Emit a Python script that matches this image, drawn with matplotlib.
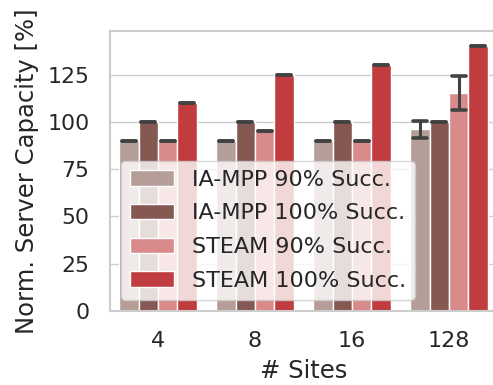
import matplotlib
matplotlib.use("Agg")
import matplotlib.pyplot as plt
from matplotlib.markers import MarkerStyle
import numpy as np
import seaborn as sns

sns.set_theme(style="whitegrid")
plt.rcParams["font.family"] = ["DejaVu Sans"]

sites = ["4", "8", "16", "128"]
series = ["IA-MPP 90% Succ.", "IA-MPP 100% Succ.", "STEAM 90% Succ.", "STEAM 100% Succ."]
ia_mpp_90 = [90, 90, 90, 96]
ia_mpp_100 = [100, 100, 100, 100]
steam_90 = [90, 95, 90, 115]
steam_100 = [110, 125, 130, 140]
ia_mpp_90_err = [0, 0, 0, 4.5]
ia_mpp_100_err = [0, 0, 0, 0]
steam_90_err = [0, 0, 0, 9]
steam_100_err = [0, 0, 0, 0]

values = [ia_mpp_90, ia_mpp_100, steam_90, steam_100]
errors = [ia_mpp_90_err, ia_mpp_100_err, steam_90_err, steam_100_err]
colors = ["#b59e98", "#855952", "#d98a8a", "#c03c3e"]

fig = plt.figure(figsize=(4.93, 3.85), dpi=100)
# the plot area runs past the right edge of the canvas
ax_w_px = 430
px_per_cat = 97.0
ax = fig.add_axes([109.5 / 493, 74 / 385, ax_w_px / 493, 280 / 385])

x = np.arange(len(sites))
width = 0.2
for i, (vals, errs, col, name) in enumerate(zip(values, errors, colors, series)):
    pos = x - 0.4 + width * (i + 0.5)
    ax.bar(pos, vals, width=width, color=col, edgecolor="white", linewidth=1.0,
           label=name, zorder=2)
    _, caps, _ = ax.errorbar(pos, vals, yerr=errs, fmt="none", ecolor="#424242",
                             elinewidth=2.2, capsize=4.8, capthick=2.6, zorder=3)
    for c in caps:
        c.set_marker(MarkerStyle("_", capstyle="round"))

ax.set_xlim(-0.5, -0.5 + ax_w_px / px_per_cat)
ax.set_ylim(0, 148)
ax.set_yticks([0, 25, 50, 75, 100, 125])
ax.set_xticks(x)
ax.set_xticklabels(sites)
ax.tick_params(axis="x", labelsize=16, length=0, pad=14.5)
ax.tick_params(axis="y", labelsize=15.8, length=0, pad=14.5)
ax.grid(axis="x", visible=False)
ax.grid(axis="y", color="0.8", linewidth=1.0)
ax.set_axisbelow(True)
for s in ax.spines.values():
    s.set_color("0.8")
    s.set_linewidth(1.5)

# centre the x label under the four category slots (-0.5 .. 3.5)
ax.set_xlabel("# Sites", fontsize=17.5, labelpad=6,
              x=(4 * px_per_cat) / 2 / ax_w_px)
ax.set_ylabel("Norm. Server Capacity [%]", fontsize=17.5, labelpad=6)

leg = ax.legend(loc="lower left", fontsize=16, framealpha=0.8, borderaxespad=0.5,
                labelspacing=0.62)
leg.get_frame().set_edgecolor("0.8")

fig.savefig("out.png", dpi=100)
